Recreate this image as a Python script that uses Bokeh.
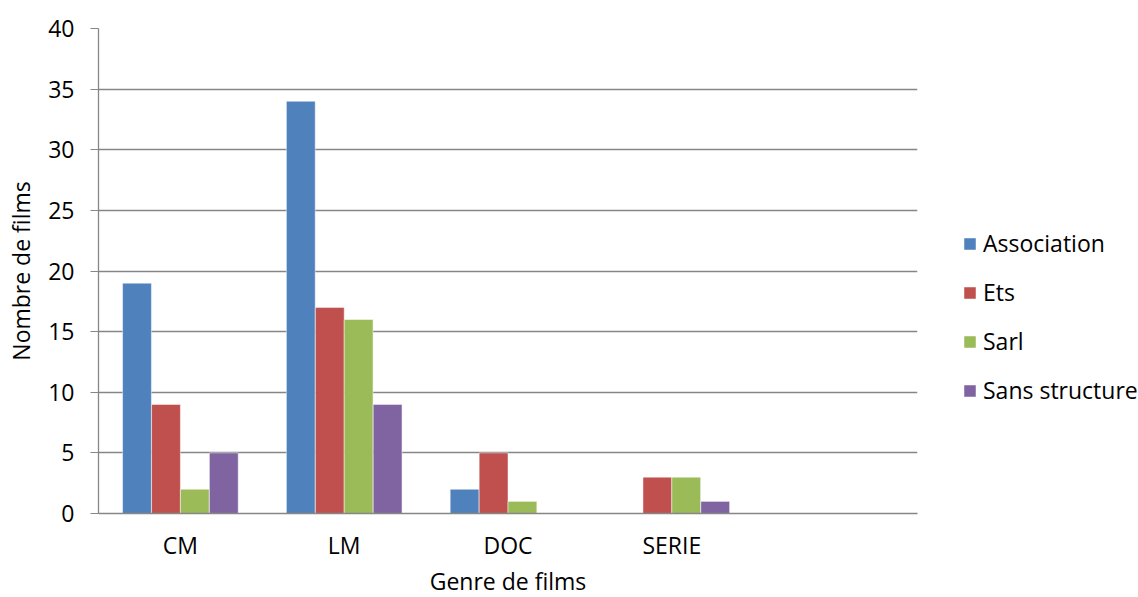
from bokeh.plotting import figure
from bokeh.models import ColumnDataSource, FactorRange, Range1d, Legend, LegendItem, SingleIntervalTicker
from bokeh.transform import dodge
from bokeh.embed import file_html
from bokeh.resources import INLINE

categories = ["CM", "LM", "DOC", "SERIE", " "]
series = ["Association", "Ets", "Sarl", "Sans structure"]
association = [19, 34, 2, 0, 0]
ets = [9, 17, 5, 3, 0]
sarl = [2, 16, 1, 3, 0]
sans_structure = [5, 9, 0, 1, 0]
colors = ["#4F81BD", "#C0504D", "#9BBB59", "#8064A2"]
offsets = [-0.265, -0.088, 0.088, 0.265]

FONT = "Open Sans"
FS = "23px"
GRAY = "#868686"

source = ColumnDataSource(dict(cat=categories, Association=association, Ets=ets,
                               Sarl=sarl, SansStructure=sans_structure))
cols = ["Association", "Ets", "Sarl", "SansStructure"]

p = figure(x_range=FactorRange(*categories), y_range=Range1d(0, 40),
           frame_width=819, frame_height=485, output_backend="svg", toolbar_location=None,
           min_border_left=98, min_border_right=10, min_border_top=28, min_border_bottom=80)
p.outline_line_color = None
p.background_fill_color = "white"

items = []
for col, name, c, off in zip(cols, series, colors, offsets):
    r = p.vbar(x=dodge("cat", off, range=p.x_range), top=col, width=0.176, bottom=0,
               source=source, fill_color=c, line_color="white", line_alpha=0.6, line_width=0.8)
    items.append(LegendItem(label=name, renderers=[r]))

p.xgrid.grid_line_color = None
p.ygrid.grid_line_color = GRAY
p.ygrid.grid_line_width = 1.3

p.yaxis.ticker = SingleIntervalTicker(interval=5)
p.yaxis.minor_tick_line_color = None
p.yaxis.major_tick_out = 8
p.yaxis.major_tick_in = 0
p.yaxis.major_tick_line_color = GRAY
p.yaxis.axis_line_color = GRAY
p.yaxis.axis_line_width = 1.3
p.yaxis.major_label_text_font = FONT
p.yaxis.major_label_text_font_size = FS
p.yaxis.major_label_text_color = "black"
p.yaxis.major_label_standoff = 16
p.yaxis.axis_label = "Nombre de films"
p.yaxis.axis_label_text_font = FONT
p.yaxis.axis_label_text_font_size = FS
p.yaxis.axis_label_text_font_style = "normal"
p.yaxis.axis_label_text_color = "black"
p.yaxis.axis_label_standoff = 8

p.xaxis.major_tick_line_color = None
p.xaxis.minor_tick_line_color = None
p.xaxis.axis_line_color = GRAY
p.xaxis.axis_line_width = 1.3
p.xaxis.major_label_text_font = FONT
p.xaxis.major_label_text_font_size = FS
p.xaxis.major_label_text_color = "black"
p.xaxis.major_label_standoff = 9
p.xaxis.axis_label = "Genre de films"
p.xaxis.axis_label_text_font = FONT
p.xaxis.axis_label_text_font_size = FS
p.xaxis.axis_label_text_font_style = "normal"
p.xaxis.axis_label_text_color = "black"
p.xaxis.axis_label_standoff = 1

legend = Legend(items=items, location=(45, 107), orientation="vertical")
legend.border_line_color = None
legend.background_fill_alpha = 0
legend.padding = 0
legend.margin = 0
legend.glyph_width = 15
legend.glyph_height = 15
legend.label_height = 31
legend.spacing = 17
legend.label_standoff = 6
legend.label_text_font = FONT
legend.label_text_font_size = FS
legend.label_text_color = "black"
p.add_layout(legend, "right")

open("out.html", "w").write(file_html(p, INLINE))
